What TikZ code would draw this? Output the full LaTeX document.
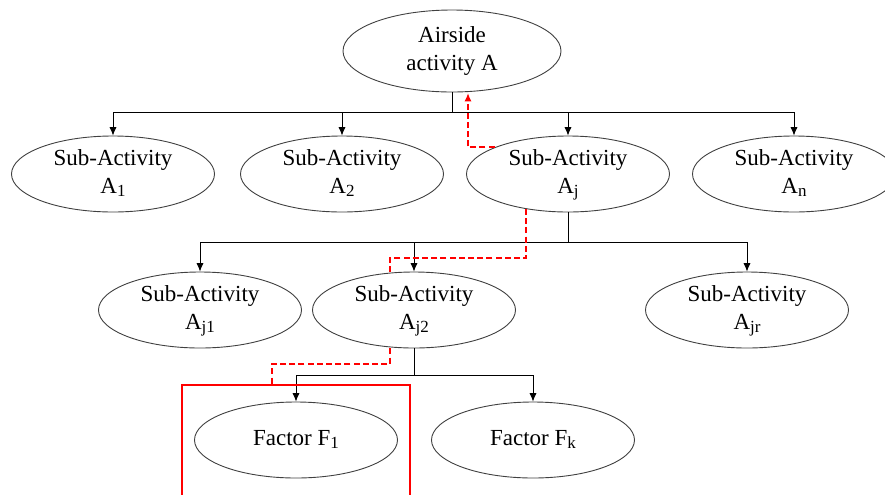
\documentclass[tikz,border=0pt]{standalone}
\usepackage{fontspec}
\setmainfont{Liberation Serif}
\usetikzlibrary{arrows.meta,shapes.geometric}
\newcommand{\idx}[1]{\raisebox{-0.25ex}{\fontsize{8.5}{9}\selectfont #1}}

\begin{document}
\begin{tikzpicture}[x=0.5pt, y=-0.5pt, >={Latex[length=4.2pt,width=3.6pt]},
	every node/.style={font=\fontsize{11.5}{14}\selectfont},
	act/.style={ellipse, draw=black!75, line width=0.45pt, minimum width=101.5pt, minimum height=38pt, align=center, inner sep=0pt, text depth=2pt},
	link/.style={line width=0.45pt},
	trace/.style={red, dash pattern=on 3pt off 1.6pt, line width=1pt},
	frame/.style={red, line width=0.9pt}]
	\useasboundingbox (0,0) rectangle (885,494);
	\clip (0,0) rectangle (885,494);
	\node[act, minimum width=109pt, minimum height=41pt] (top) at (452,51) {Airside\\activity A};
	\foreach \n/\x/\t in {a1/113/1, a2/342/2, aj/568/j, an/794/n}
		\node[act] (\n) at (\x,174) {Sub-Activity\\A\idx{\t}};
	\foreach \n/\x/\t in {aj1/200/j1, aj2/414/j2, ajr/747/jr}
		\node[act] (\n) at (\x,310) {Sub-Activity\\A\idx{\t}};
	\node[act] (f1) at (296,440) {Factor F\idx{1}};
	\node[act] (fk) at (533,440) {Factor F\idx{k}};
	\coordinate (b1) at (452,112);
	\coordinate (b2) at (568,242);
	\coordinate (b3) at (414,375);
	\draw[link] (top.south) -- (b1);
	\foreach \n in {a1,a2,aj,an} {\draw[link,->] (b1) -| (\n.north);}
	\draw[link] (aj.south) -- (b2);
	\foreach \n in {aj1,aj2,ajr} {\draw[link,->] (b2) -| (\n.north);}
	\draw[link] (aj2.south) -- (b3);
	\foreach \n in {f1,fk} {\draw[link,->] (b3) -| (\n.north);}
	\coordinate (r1) at (468,93);
	\coordinate (r2) at (390,258);
	\coordinate (r3) at (272,364);
	\coordinate (boxnw) at (182,385);
	\coordinate (boxne) at (410,385);
	\draw[trace,->] (aj.160) -| (r1);
	\draw[trace] (aj.220) |- (r2) -- (r2 |- aj2.north);
	\draw[trace] (aj2.south -| r2) |- (r3) -- (r3 |- boxnw);
	\draw[frame] (182,500) -- (boxnw) -- (boxne) -- (410,500);
\end{tikzpicture}
\end{document}
